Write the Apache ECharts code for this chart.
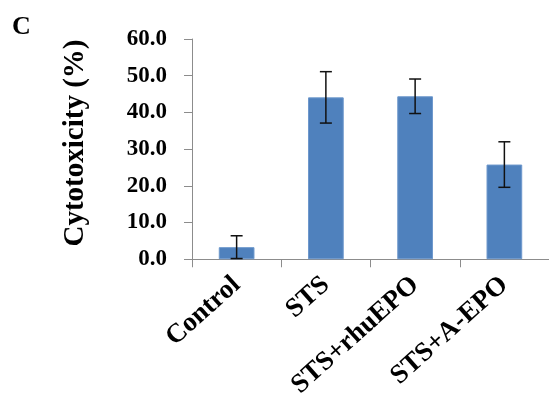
<!DOCTYPE html>
<html>
<head>
<meta charset="utf-8">
<script src="https://cdn.jsdelivr.net/npm/echarts@6/dist/echarts.min.js"></script>
<style>html,body{margin:0;padding:0;background:#fff;}#c{width:549px;height:401px;}</style>
</head>
<body>
<div id="c"></div>
<script>
var categories = ['Control', 'STS', 'STS+rhuEPO', 'STS+A-EPO'];
var values = [3.3, 44.1, 44.4, 25.8];
var errors = [3.1, 7.0, 4.7, 6.2];
var yMin = 0, yMax = 60, yStep = 10;
var panelLetter = 'C';
var yTitle = 'Cytotoxicity (%)';

var FONT = '"Liberation Serif", "Times New Roman", serif';
var chart = echarts.init(document.getElementById('c'), null, {renderer: 'canvas'});
var errData = values.map(function (v, i) { return [i, v - errors[i], v + errors[i]]; });

chart.setOption({
  animation: false,
  backgroundColor: '#ffffff',
  grid: {left: 192, right: -4, top: 39, bottom: 139, containLabel: false},
  graphic: [
    {type: 'text', left: 12, top: 14, style: {text: panelLetter, font: 'bold 26px ' + FONT, fill: '#000'}},
    {type: 'text', x: 76, y: 143, rotation: Math.PI / 2,
     style: {text: yTitle, font: 'bold 29px ' + FONT, fill: '#000', align: 'center', verticalAlign: 'middle'}}
  ],
  xAxis: {
    type: 'category', data: categories,
    axisLine: {lineStyle: {color: '#8c8c8c', width: 1}},
    axisTick: {show: true, length: 8, lineStyle: {color: '#8c8c8c'}},
    axisLabel: {rotate: 42, fontFamily: FONT, fontWeight: 'bold', fontSize: 27, color: '#000', margin: 22, interval: 0}
  },
  yAxis: {
    type: 'value', min: yMin, max: yMax, interval: yStep,
    splitLine: {show: false},
    axisLine: {show: true, lineStyle: {color: '#8c8c8c', width: 1}},
    axisTick: {show: true, length: 8, lineStyle: {color: '#8c8c8c'}},
    axisLabel: {margin: 25, hideOverlap: false,
      formatter: function (v) { return '{a|' + v.toFixed(1) + '}'; },
      rich: {a: {fontFamily: FONT, fontWeight: 'bold', fontSize: 23, color: '#000'}}}
  },
  series: [
    {type: 'bar', data: values, barWidth: '40%',
     itemStyle: {color: '#4F81BD', borderColor: '#6d98cc', borderWidth: 1}},
    {type: 'custom', data: errData, z: 10,
     renderItem: function (params, api) {
       var x = api.value(0);
       var lo = api.coord([x, api.value(1)]);
       var hi = api.coord([x, api.value(2)]);
       var hw = 6;
       var st = {stroke: '#111', lineWidth: 1.5};
       return {type: 'group', children: [
         {type: 'line', shape: {x1: lo[0], y1: lo[1], x2: hi[0], y2: hi[1]}, style: st},
         {type: 'line', shape: {x1: lo[0] - hw, y1: lo[1], x2: lo[0] + hw, y2: lo[1]}, style: st},
         {type: 'line', shape: {x1: hi[0] - hw, y1: hi[1], x2: hi[0] + hw, y2: hi[1]}, style: st}
       ]};
     }}
  ]
});
</script>
</body>
</html>
